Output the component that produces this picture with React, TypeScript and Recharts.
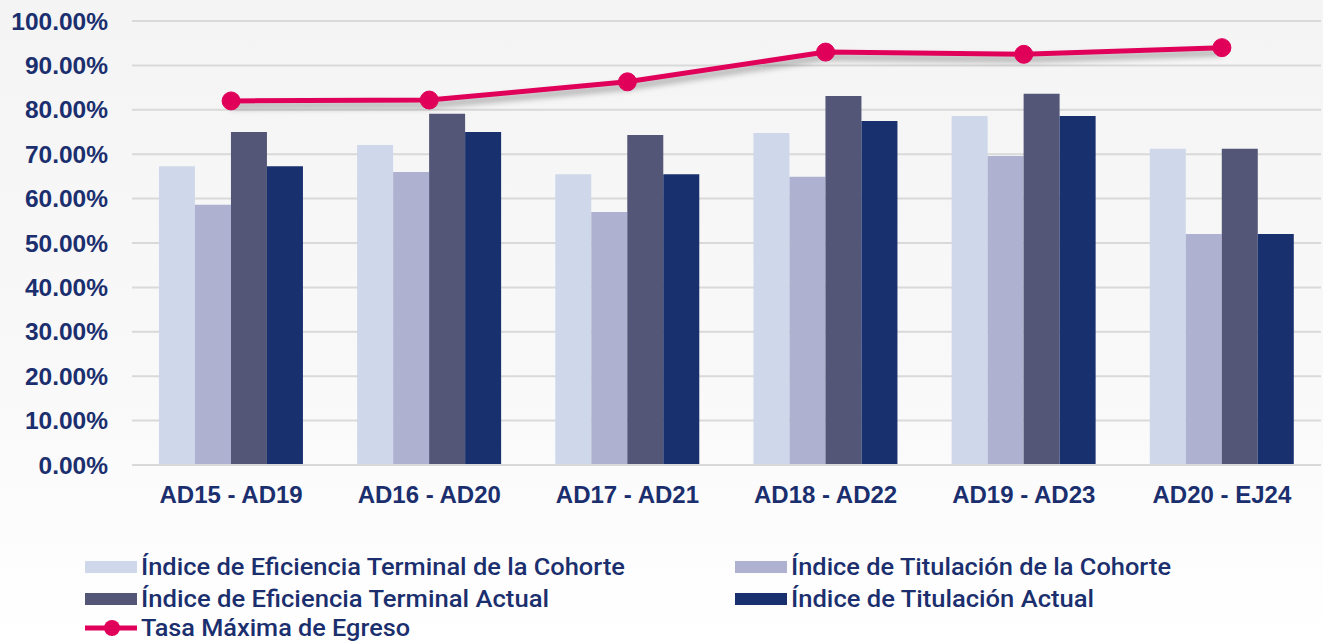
import { ComposedChart, Bar, Line, XAxis, YAxis, CartesianGrid, Legend } from 'recharts';

const cohorts = ['AD15 - AD19', 'AD16 - AD20', 'AD17 - AD21', 'AD18 - AD22', 'AD19 - AD23', 'AD20 - EJ24'];
const eficienciaCohorte = [67.3, 72.1, 65.5, 74.8, 78.6, 71.2];
const titulacionCohorte = [58.6, 66.0, 57.0, 64.9, 69.6, 52.0];
const eficienciaActual = [75.0, 79.1, 74.3, 83.1, 83.6, 71.2];
const titulacionActual = [67.3, 75.0, 65.5, 77.5, 78.6, 52.0];
const tasaMaxima = [82.0, 82.2, 86.3, 93.0, 92.5, 94.0];
const yTicks = [0, 10, 20, 30, 40, 50, 60, 70, 80, 90, 100];

const NAVY_TEXT = '#1b2f6e';
const C_LIGHT = '#cfd8ea';
const C_LAV = '#afb1d1';
const C_SLATE = '#545677';
const C_NAVY = '#19306f';
const C_PINK = '#e0005a';

const data = cohorts.map((c, i) => ({
    cohort: c,
    efCoh: eficienciaCohorte[i],
    titCoh: titulacionCohorte[i],
    efAct: eficienciaActual[i],
    titAct: titulacionActual[i],
    tasa: tasaMaxima[i],
}));

const legendItems = [
    { label: 'Índice de Eficiencia Terminal de la Cohorte', color: C_LIGHT, x: 85, y: 575, w: 484, type: 'bar' },
    { label: 'Índice de Titulación de la Cohorte', color: C_LAV, x: 735, y: 575, w: 380, type: 'bar' },
    { label: 'Índice de Eficiencia Terminal Actual', color: C_SLATE, x: 85, y: 607, w: 408, type: 'bar' },
    { label: 'Índice de Titulación Actual', color: C_NAVY, x: 735, y: 607, w: 303, type: 'bar' },
    { label: 'Tasa Máxima de Egreso', color: C_PINK, x: 85, y: 636, w: 269, type: 'line' },
];

function CustomLegend() {
    return (
        <svg width={1323} height={117} style={{ display: 'block' }}>
            <g transform="translate(0,-525)">
                {legendItems.map((it) => (
                    <g key={it.label}>
                        {it.type === 'bar' ? (
                            <rect x={it.x} y={it.y - 14} width={52} height={12} fill={it.color} />
                        ) : (
                            <g>
                                <line x1={it.x} x2={it.x + 52} y1={it.y - 8} y2={it.y - 8} stroke={it.color} strokeWidth={5} />
                                <circle cx={it.x + 27} cy={it.y - 8} r={8} fill={it.color} />
                            </g>
                        )}
                        <text
                            x={it.x + 56}
                            y={it.y}
                            fill={NAVY_TEXT}
                            fontFamily="Roboto, sans-serif"
                            fontWeight={500}
                            fontSize={23}
                            textLength={it.w}
                            lengthAdjust="spacingAndGlyphs"
                        >
                            {it.label}
                        </text>
                    </g>
                ))}
            </g>
        </svg>
    );
}

export default function App() {
    return (
        <div style={{ width: 1323, height: 642, position: 'relative', background: 'linear-gradient(180deg, #f4f4f5 0%, #f9f9fa 60%, #ffffff 100%)' }}>
            <style>{`body{margin:0} .pink-line{filter:drop-shadow(0px 5px 3px rgba(0,0,0,0.35));}`}</style>
            <ComposedChart
                width={1323}
                height={642}
                data={data}
                margin={{ top: 21, right: 2, left: 0, bottom: 0 }}
                barCategoryGap="13.6%"
                barGap={0}
            >
                <CartesianGrid vertical={false} stroke="#d9d9d9" strokeWidth={2} />
                <XAxis
                    dataKey="cohort"
                    height={60}
                    axisLine={{ stroke: '#d9d9d9', strokeWidth: 2 }}
                    tickLine={false}
                    tickMargin={15}
                    tick={{ fill: NAVY_TEXT, fontSize: 24, fontWeight: 700, fontFamily: '"Liberation Sans", Arial, sans-serif' }}
                />
                <YAxis
                    width={132}
                    domain={[0, 100]}
                    ticks={yTicks}
                    interval={0}
                    axisLine={false}
                    tickLine={false}
                    tickMargin={18}
                    tickFormatter={(v: number) => `${v.toFixed(2)}%`}
                    tick={{ fill: NAVY_TEXT, fontSize: 24.5, fontWeight: 700, fontFamily: '"Liberation Sans", Arial, sans-serif' }}
                />
                <Legend verticalAlign="bottom" height={117} content={() => <CustomLegend />} />
                <Bar dataKey="efCoh" fill={C_LIGHT} isAnimationActive={false} />
                <Bar dataKey="titCoh" fill={C_LAV} isAnimationActive={false} />
                <Bar dataKey="efAct" fill={C_SLATE} isAnimationActive={false} />
                <Bar dataKey="titAct" fill={C_NAVY} isAnimationActive={false} />
                <Line
                    className="pink-line"
                    type="linear"
                    dataKey="tasa"
                    stroke={C_PINK}
                    strokeWidth={5}
                    dot={{ r: 9, fill: C_PINK, stroke: C_PINK, strokeWidth: 1 }}
                    activeDot={false}
                    isAnimationActive={false}
                />
            </ComposedChart>
        </div>
    );
}
